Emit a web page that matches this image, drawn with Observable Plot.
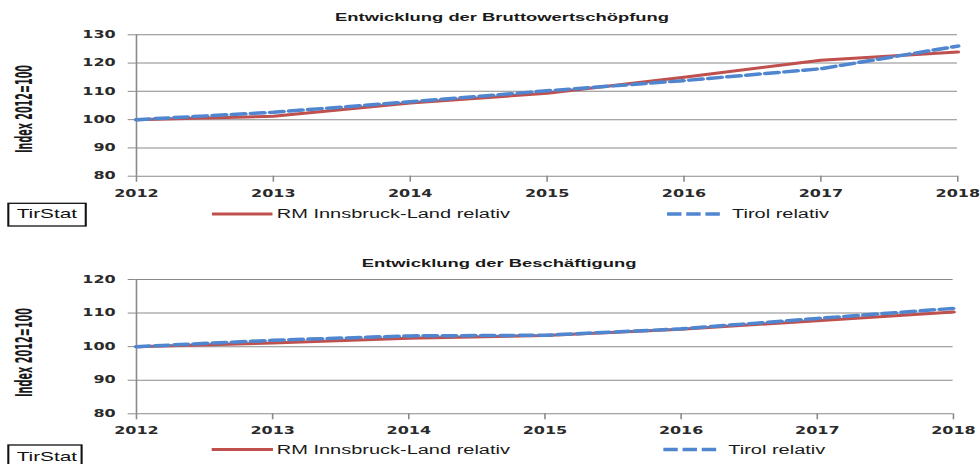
<!DOCTYPE html>
<html>
<head>
<meta charset="utf-8">
<script src="https://cdn.jsdelivr.net/npm/d3@7"></script>
<script src="https://cdn.jsdelivr.net/npm/@observablehq/plot@0.6"></script>
<style>
  html, body { margin: 0; padding: 0; background: #fff; overflow: hidden; }
  #stage { position: relative; width: 612.5px; height: 464px; transform: scaleX(1.6); transform-origin: 0 0; }
  .layer { position: absolute; left: 0; }
  #overlay { position: absolute; left: 0; top: 0; }
</style>
</head>
<body>
<div id="stage">
  <div id="top" class="layer" style="top:0"></div>
  <div id="bottom" class="layer" style="top:240px"></div>
</div>
<script>
// ---- data ----
const years = [2012, 2013, 2014, 2015, 2016, 2017, 2018];
const bwsRM    = [100, 101.2, 105.9, 109.3, 115.0, 121.0, 123.9];
const bwsTirol = [100, 102.6, 106.3, 110.2, 113.8, 118.0, 126.0];
const empRM    = [100, 101.1, 102.5, 103.3, 105.2, 107.7, 110.3];
const empTirol = [100, 101.9, 103.2, 103.4, 105.3, 108.4, 111.4];
const yTicksBws = [80, 90, 100, 110, 120, 130];
const yTicksEmp = [80, 90, 100, 110, 120];
const seriesNames = ["RM Innsbruck-Land relativ", "Tirol relativ"];
const titles = ["Entwicklung der Bruttowertschöpfung", "Entwicklung der Beschäftigung"];
const yLabel = "Index 2012=100";
const sourceLabel = "TirStat";

const RED = "#C0504D", BLUE = "#4F86CF", GRID = "#8a8a8a", INK = "#2a2a2a";
const W = 612.5;

function chart({rm, tirol, yTicks, height, marginTop, marginBottom, marginRight}) {
  const rmRows = years.map((yr, i) => ({year: yr, v: rm[i]}));
  const tiRows = years.map((yr, i) => ({year: yr, v: tirol[i]}));
  return Plot.plot({
    width: W, height, marginTop, marginBottom, marginLeft: 84.8, marginRight,
    style: {fontFamily: "DejaVu Sans", fontSize: "10px", fontWeight: "bold", color: INK, background: "transparent"},
    x: {type: "linear", domain: [years[0], years[years.length - 1]]},
    y: {domain: [yTicks[0], yTicks[yTicks.length - 1]]},
    marks: [
      Plot.gridY(yTicks, {stroke: GRID, strokeOpacity: 1, strokeWidth: 1}),
      Plot.ruleX([years[0]], {stroke: GRID, strokeWidth: 1}),
      Plot.axisY(yTicks, {tickSize: 5, tickPadding: 8, stroke: GRID, fill: INK, label: null, tickFormat: d => String(d)}),
      Plot.axisX(years, {tickSize: 6, tickPadding: 7.5, stroke: GRID, fill: INK, label: null, tickFormat: d => String(d)}),
      Plot.line(rmRows, {x: "year", y: "v", stroke: RED, strokeWidth: 3}),
      Plot.line(tiRows, {x: "year", y: "v", stroke: BLUE, strokeWidth: 3.5, strokeDasharray: "8,4"})
    ]
  });
}

document.getElementById("top").append(chart({
  rm: bwsRM, tirol: bwsTirol, yTicks: yTicksBws, height: 240,
  marginTop: 34.3, marginBottom: 64.3, marginRight: 14.4
}));
document.getElementById("bottom").append(chart({
  rm: empRM, tirol: empTirol, yTicks: yTicksEmp, height: 224,
  marginTop: 39, marginBottom: 50.7, marginRight: 17.1
}));

// ---- overlay: titles, axis titles, legends, source boxes ----
const svg = d3.select("#stage").append("svg")
  .attr("id", "overlay").attr("width", W).attr("height", 464);

const panels = [
  {title: titles[0], tx: 313.75, ty: 20.7, ly: 109, llen: 88,
   legY: 214, legBase: 218.5, red: [132.5, 170.3], redText: 173, blue: [416.9, 451.3], blueText: 457.5,
   box: [5.2, 203.3, 48.4, 22.7], boxText: [10.4, 218.3]},
  {title: titles[1], tx: 311.9, ty: 267.3, ly: 352.5, llen: 89,
   legY: 449.5, legBase: 454, red: [132.3, 170.6], redText: 173, blue: [414.6, 449], blueText: 455.2,
   box: [5.2, 445, 45.8, 24], boxText: [10.4, 460.7]}
];

for (const p of panels) {
  svg.append("text").text(p.title)
    .attr("x", p.tx).attr("y", p.ty).attr("text-anchor", "middle")
    .attr("font-family", "Liberation Sans, Arial, sans-serif").attr("font-weight", "bold")
    .attr("font-size", 11.5).attr("fill", "#1a1a1a");
  svg.append("text").text(yLabel)
    .attr("transform", `translate(19.8,${p.ly}) rotate(-90)`)
    .attr("text-anchor", "middle")
    .attr("font-family", "Liberation Sans Narrow, DejaVu Sans Condensed, Liberation Sans, sans-serif")
    .attr("font-weight", "bold").attr("font-size", 14)
    .attr("textLength", p.llen).attr("lengthAdjust", "spacingAndGlyphs")
    .attr("fill", "#1a1a1a");
  svg.append("line").attr("x1", p.red[0]).attr("x2", p.red[1]).attr("y1", p.legY).attr("y2", p.legY)
    .attr("stroke", RED).attr("stroke-width", 3);
  svg.append("text").text(seriesNames[0]).attr("x", p.redText).attr("y", p.legBase)
    .attr("font-family", "Liberation Sans, Arial, sans-serif").attr("font-size", 12.5).attr("fill", "#1a1a1a");
  svg.append("line").attr("x1", p.blue[0]).attr("x2", p.blue[1]).attr("y1", p.legY).attr("y2", p.legY)
    .attr("stroke", BLUE).attr("stroke-width", 3.5).attr("stroke-dasharray", "9,3");
  svg.append("text").text(seriesNames[1]).attr("x", p.blueText).attr("y", p.legBase)
    .attr("font-family", "Liberation Sans, Arial, sans-serif").attr("font-size", 12.5).attr("fill", "#1a1a1a");
  svg.append("rect").attr("x", p.box[0]).attr("y", p.box[1]).attr("width", p.box[2]).attr("height", p.box[3])
    .attr("fill", "none").attr("stroke", "#111").attr("stroke-width", 1.3);
  svg.append("text").text(sourceLabel).attr("x", p.boxText[0]).attr("y", p.boxText[1])
    .attr("font-family", "Liberation Sans, Arial, sans-serif").attr("font-size", 13).attr("fill", "#111");
}
</script>
</body>
</html>
